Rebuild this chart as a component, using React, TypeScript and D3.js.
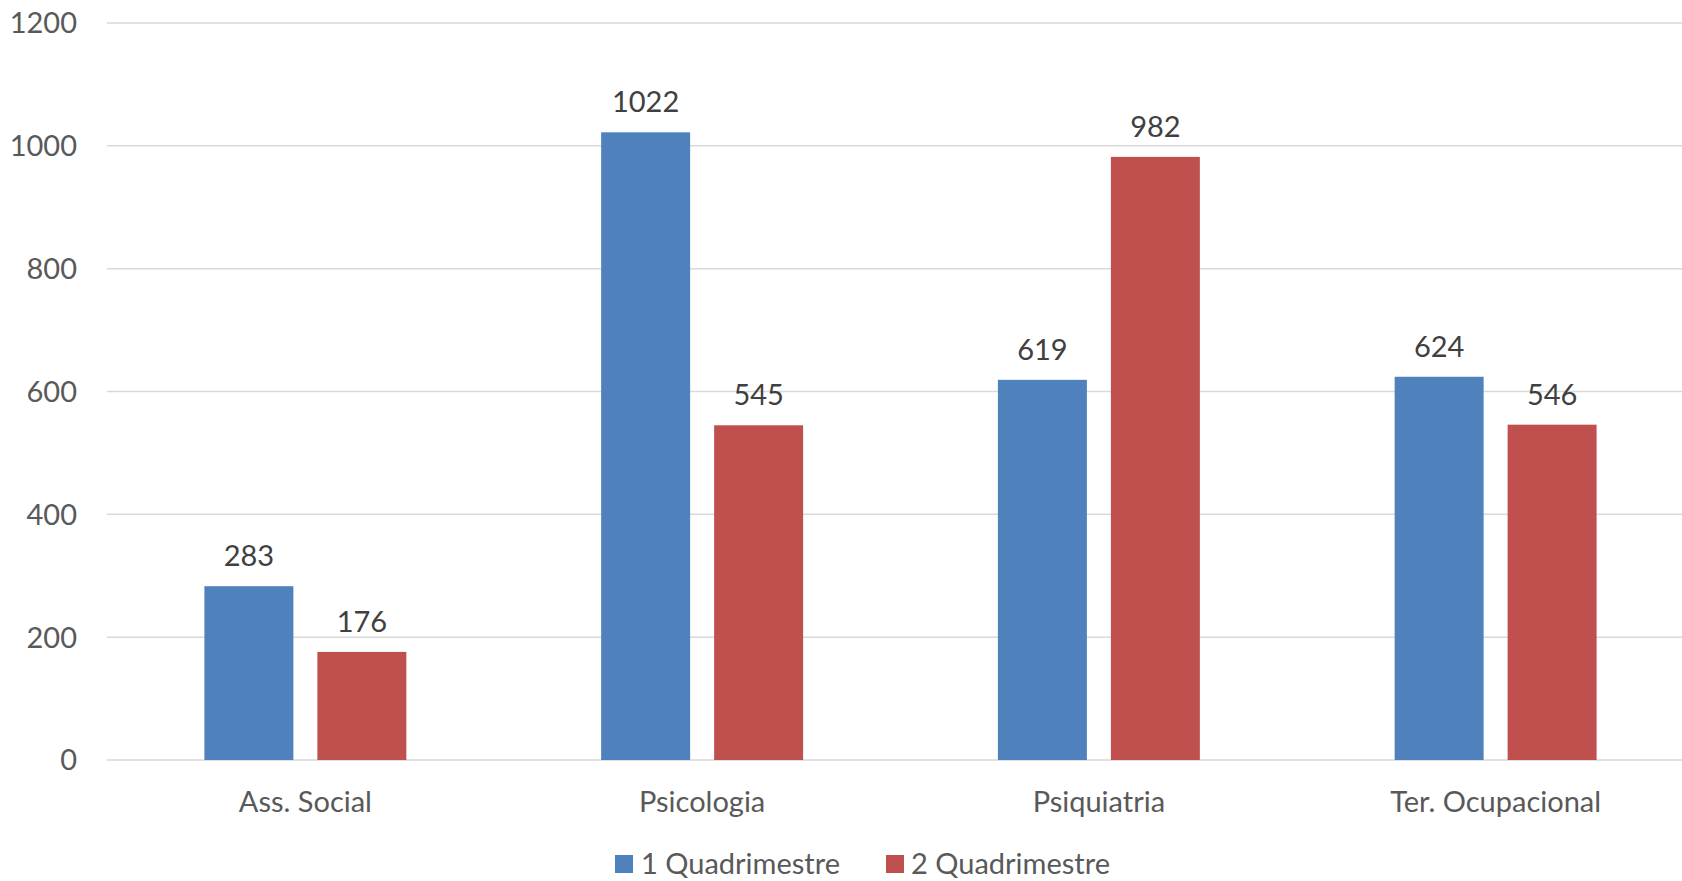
import React from "react";
import * as d3 from "d3";

const categories = ["Ass. Social", "Psicologia", "Psiquiatria", "Ter. Ocupacional"];
const seriesNames = ["1 Quadrimestre", "2 Quadrimestre"];
const q1Values = [283, 1022, 619, 624];
const q2Values = [176, 545, 982, 546];
const yTicks = [0, 200, 400, 600, 800, 1000, 1200];
const colors = ["#4F81BD", "#C0504D"];

const W = 1682;
const H = 881;
const FONT = "Lato, 'Open Sans', sans-serif";
const FS = 29;

export default function App() {
  const plotLeft = 107;
  const plotRight = 1694;
  const y = d3.scaleLinear().domain([0, 1200]).range([760, 23]);
  const x0 = d3.scaleBand<string>().domain(categories).range([plotLeft, plotRight]).paddingInner(0).paddingOuter(0);
  const x1 = d3
    .scaleBand<string>()
    .domain(seriesNames)
    .range([0, x0.bandwidth()])
    .paddingInner(24 / 113)
    .paddingOuter(0.862);
  const seriesValues = [q1Values, q2Values];

  const legendItems = [
    { name: seriesNames[0], sx: 615, tx: 641 },
    { name: seriesNames[1], sx: 886, tx: 911 },
  ];

  return (
    <svg
      width={W}
      height={H}
      style={{ position: "absolute", left: 0, top: 0, display: "block", background: "#fff" }}
      fontFamily={FONT}
    >
      <rect x={0} y={0} width={W} height={H} fill="#fff" />
      {yTicks.map((t) => (
        <g key={t}>
          <line x1={plotLeft} x2={W} y1={y(t)} y2={y(t)} stroke="#d9d9d9" strokeWidth={1.5} />
          <text x={77} y={y(t)} dy="0.36em" textAnchor="end" fontSize={FS} fill="#595959">
            {t}
          </text>
        </g>
      ))}
      {categories.map((c, ci) => (
        <g key={c}>
          {seriesNames.map((s, si) => {
            const v = seriesValues[si][ci];
            const bx = (x0(c) ?? 0) + (x1(s) ?? 0);
            return (
              <g key={s}>
                <rect x={bx} y={y(v)} width={x1.bandwidth()} height={y(0) - y(v)} fill={colors[si]} />
                <text
                  x={bx + x1.bandwidth() / 2}
                  y={y(v) - 20}
                  textAnchor="middle"
                  fontSize={FS}
                  fill="#404040"
                >
                  {v}
                </text>
              </g>
            );
          })}
          <text x={(x0(c) ?? 0) + x0.bandwidth() / 2} y={812} textAnchor="middle" fontSize={FS} fill="#595959">
            {c}
          </text>
        </g>
      ))}
      {legendItems.map((l, i) => (
        <g key={l.name}>
          <rect x={l.sx} y={855} width={18} height={18} fill={colors[i]} />
          <text x={l.tx} y={874} fontSize={FS} fill="#595959">
            {l.name}
          </text>
        </g>
      ))}
    </svg>
  );
}
